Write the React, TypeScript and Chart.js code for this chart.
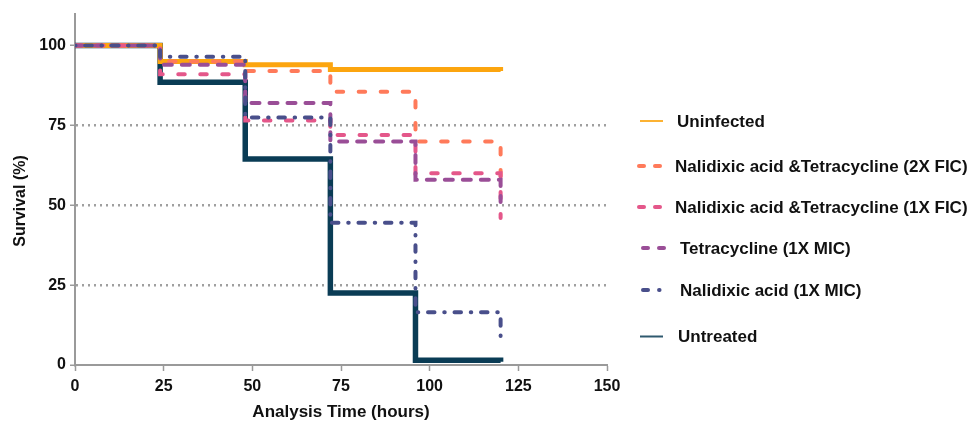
import React, { useEffect, useRef } from "react";
import { Chart, registerables } from "chart.js";

Chart.register(...registerables);

// ---- Data ----
const times = [0, 24, 48, 72, 96, 120];
const uninfected = [100, 95, 94, 92.5, 92.5, 92];
const naTet2xFic = [100, 95, 92, 85.5, 70, 58];
const naTet1xFic = [100, 91, 76.5, 72, 60, 46];
const tetracycline = [100, 94, 82, 70, 58, 51];
const nalidixic = [100, 96.5, 77.5, 44.5, 16.5, 8.5];
const untreated = [100, 88.5, 64.5, 22.5, 1.5, 1];

const seriesLabels = [
  "Uninfected",
  "Nalidixic acid &Tetracycline (2X FIC)",
  "Nalidixic acid &Tetracycline (1X FIC)",
  "Tetracycline (1X MIC)",
  "Nalidixic acid (1X MIC)",
  "Untreated",
];

const xTicks = [0, 25, 50, 75, 100, 125, 150];
const yTicks = [0, 25, 50, 75, 100];
const gridValues = [25, 50, 75];

const xTitle = "Analysis Time (hours)";
const yTitle = "Survival (%)";

const COLORS = {
  orange: "#FCA50F",
  coral: "#FF7A5A",
  pink: "#E4578A",
  purple: "#9A4E97",
  navyPurple: "#494F8B",
  teal: "#0A3C55",
};

const FONT = "'Liberation Sans', Arial, sans-serif";

const toPts = (ys: number[]) => times.map((t, i) => ({ x: t, y: ys[i] }));

// legend layout (styles only)
const legendItems = [
  { label: seriesLabels[0], color: COLORS.orange, y: 121, tx: 677, kind: "solid", segs: [[640, 663]] },
  { label: seriesLabels[1], color: COLORS.coral, y: 166, tx: 675, kind: "dash", segs: [[637, 646], [653, 662]] },
  { label: seriesLabels[2], color: COLORS.pink, y: 207, tx: 675, kind: "dash", segs: [[637, 646], [653, 662]] },
  { label: seriesLabels[3], color: COLORS.purple, y: 248, tx: 680, kind: "dash", segs: [[641, 650], [657, 666]] },
  { label: seriesLabels[4], color: COLORS.navyPurple, y: 290, tx: 680, kind: "dashdot", segs: [[641, 650], [659.3, 659.3]] },
  { label: seriesLabels[5], color: COLORS.teal, y: 336.5, tx: 678, kind: "solid", segs: [[640, 663]] },
];

const overlayPlugin = {
  id: "overlay",
  afterDraw(chart: any) {
    const ctx = chart.ctx as CanvasRenderingContext2D;
    ctx.save();
    // legend
    legendItems.forEach((it) => {
      ctx.strokeStyle = it.color;
      if (it.kind === "solid") {
        ctx.lineWidth = 2;
        ctx.lineCap = "butt";
        ctx.globalAlpha = 0.85;
        ctx.beginPath();
        ctx.moveTo(it.segs[0][0], it.y);
        ctx.lineTo(it.segs[0][1], it.y);
        ctx.stroke();
        ctx.globalAlpha = 1;
      } else {
        ctx.lineWidth = 4;
        ctx.lineCap = "round";
        it.segs.forEach((s) => {
          ctx.beginPath();
          const a = s[0] === s[1] ? s[0] - 0.25 : s[0] + 2;
          const b = s[0] === s[1] ? s[1] + 0.25 : s[1] - 2;
          ctx.moveTo(a, it.y);
          ctx.lineTo(b, it.y);
          ctx.stroke();
        });
      }
      ctx.fillStyle = "#111";
      ctx.font = `bold 17px ${FONT}`;
      ctx.textAlign = "left";
      ctx.textBaseline = "middle";
      ctx.fillText(it.label, it.tx, it.y + 1);
    });
    // axis titles
    ctx.fillStyle = "#111";
    ctx.font = `bold 17px ${FONT}`;
    ctx.textAlign = "center";
    ctx.textBaseline = "middle";
    ctx.fillText(xTitle, 341, 412);
    ctx.translate(21, 201);
    ctx.rotate(-Math.PI / 2);
    ctx.font = `bold 16px ${FONT}`;
    ctx.fillText(yTitle, 0, 0);
    ctx.restore();
  },
};

export default function App() {
  const ref = useRef<HTMLCanvasElement | null>(null);

  useEffect(() => {
    if (!ref.current) return;
    const common = { pointRadius: 0, stepped: true as const, fill: false, borderCapStyle: "round" as const };
    const chart = new Chart(ref.current, {
      type: "line",
      data: {
        datasets: [
          { ...common, label: seriesLabels[0], data: toPts(uninfected), borderColor: COLORS.orange, borderWidth: 5, borderCapStyle: "butt", order: 5 },
          { ...common, label: seriesLabels[1], data: toPts(naTet2xFic), borderColor: COLORS.coral, borderWidth: 4, borderDash: [6.5, 15.5], order: 4 },
          { ...common, label: seriesLabels[2], data: toPts(naTet1xFic), borderColor: COLORS.pink, borderWidth: 4, borderDash: [6.5, 15.5], order: 3 },
          { ...common, label: seriesLabels[3], data: toPts(tetracycline), borderColor: COLORS.purple, borderWidth: 4, borderDash: [8, 10], order: 2 },
          { ...common, label: seriesLabels[4], data: toPts(nalidixic), borderColor: COLORS.navyPurple, borderWidth: 4, borderDash: [0.5, 9.75, 6.5, 9.75], order: 1 },
          { ...common, label: seriesLabels[5], data: toPts(untreated), borderColor: COLORS.teal, borderWidth: 5.5, borderCapStyle: "butt", order: 6 },
        ],
      },
      options: {
        animation: false,
        responsive: false,
        maintainAspectRatio: false,
        layout: { padding: { left: 0, top: 12, right: 366, bottom: 0 } },
        plugins: { legend: { display: false }, tooltip: { enabled: false } },
        scales: {
          x: {
            type: "linear",
            min: 0,
            max: 150,
            afterBuildTicks: (s: any) => {
              s.ticks = xTicks.map((v) => ({ value: v }));
            },
            afterFit: (s: any) => {
              s.height = 58;
            },
            grid: { drawOnChartArea: false, drawTicks: true, tickLength: 6, tickColor: "#9a9a9a", tickWidth: 1.5 },
            border: { display: true, color: "#9a9a9a", width: 2 },
            ticks: { color: "#111", padding: 6, font: { family: FONT, size: 16, weight: "bold" }, maxRotation: 0 },
          },
          y: {
            type: "linear",
            min: 0,
            max: 110,
            afterBuildTicks: (s: any) => {
              s.ticks = yTicks.map((v) => ({ value: v }));
            },
            afterFit: (s: any) => {
              s.width = 75;
            },
            grid: {
              drawOnChartArea: true,
              drawTicks: true,
              tickLength: 5,
              tickWidth: 1.5,
              tickColor: "#9a9a9a",
              lineWidth: 2.5,
              color: (c: any) => (c.tick && gridValues.includes(c.tick.value) ? "#a0a0a0" : "rgba(0,0,0,0)"),
            },
            border: { display: true, color: "#9a9a9a", width: 2, dash: [2, 4] },
            ticks: { color: "#111", padding: 4, font: { family: FONT, size: 16, weight: "bold" } },
          },
        },
      },
      plugins: [overlayPlugin],
    } as any);
    return () => chart.destroy();
  }, []);

  return (
    <div style={{ position: "fixed", left: 0, top: 0, width: 973, height: 423, background: "#fff" }}>
      <canvas ref={ref} width={973} height={423} style={{ display: "block" }} />
    </div>
  );
}
